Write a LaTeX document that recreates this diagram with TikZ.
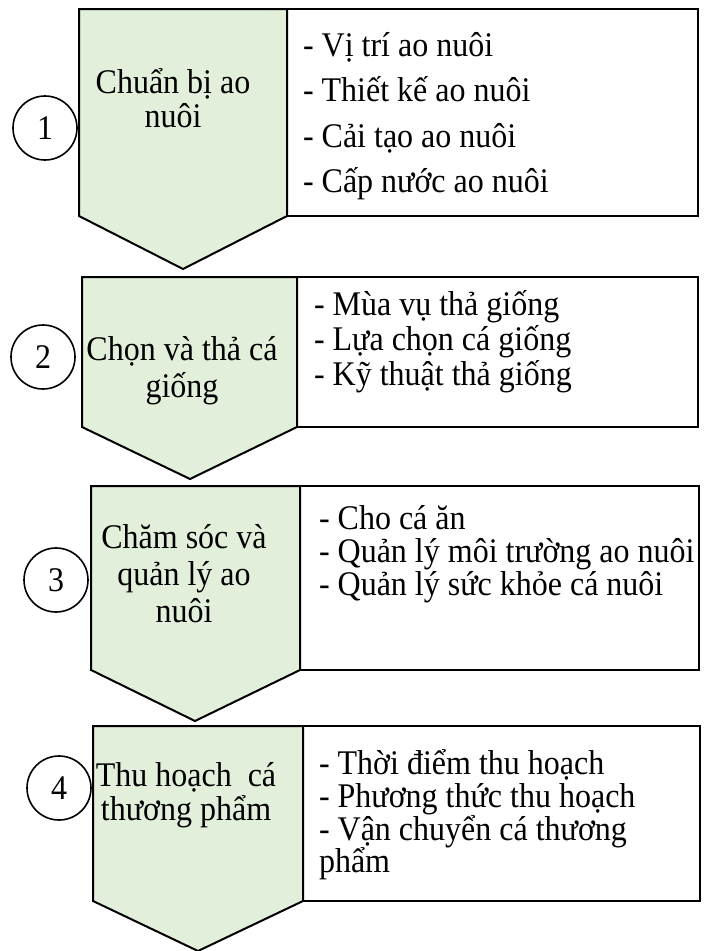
\documentclass[tikz,border=0pt]{standalone}
\usepackage{fontspec}
\usepackage{graphicx}
\setmainfont{Liberation Serif}
\definecolor{fillg}{HTML}{E2EFDA}
\newcommand\tallt[1]{\scalebox{1}[1.08]{#1}}
\begin{document}
\begin{tikzpicture}[x=1pt,y=-1pt,line width=2pt,line join=miter,
  chev/.style={draw=black,fill=fillg},
  lbox/.style={draw=black,fill=white},
  num/.style={circle,draw,line width=1.6pt,minimum size=64pt,inner sep=0pt,font=\fontsize{32}{36}\selectfont},
  item/.style={anchor=base west,inner sep=0pt,font=\fontsize{32}{36}\selectfont},
  ttl/.style={anchor=base,inner sep=0pt,font=\fontsize{32}{36}\selectfont}]
\useasboundingbox (0,0) rectangle (712,951);
% step 1
\draw[lbox] (287,9) rectangle (698,216);
\draw[chev] (79,9) -- (287,9) -- (287,216) -- (183,269) -- (79,216) -- cycle;
\node[num] (n1) at (45,128) {\tallt{1}};
\node[ttl] (t1a) at (173,93) {\tallt{Chuẩn bị ao}};
\node[ttl] (t1b) at (173,127) {\tallt{nuôi}};
\node[item] (i1a) at (302,56) {\tallt{- Vị trí ao nuôi}};
\node[item] (i1b) at (302,101) {\tallt{- Thiết kế ao nuôi}};
\node[item] (i1c) at (302,147) {\tallt{- Cải tạo ao nuôi}};
\node[item] (i1d) at (302,192) {\tallt{- Cấp nước ao nuôi}};
% step 2
\draw[lbox] (297,277) rectangle (698,427);
\draw[chev] (82,277) -- (297,277) -- (297,427) -- (190,479) -- (82,427) -- cycle;
\node[num] (n2) at (43,357) {\tallt{2}};
\node[ttl] (t2a) at (182,360) {\tallt{Chọn và thả cá}};
\node[ttl] (t2b) at (182,397) {\tallt{giống}};
\node[item] (i2a) at (313,315) {\tallt{- Mùa vụ thả giống}};
\node[item] (i2b) at (313,350) {\tallt{- Lựa chọn cá giống}};
\node[item] (i2c) at (313,385) {\tallt{- Kỹ thuật thả giống}};
% step 3
\draw[lbox] (300,486) rectangle (699,670);
\draw[chev] (91,486) -- (300,486) -- (300,670) -- (195,721) -- (91,670) -- cycle;
\node[num] (n3) at (56,580) {\tallt{3}};
\node[ttl] (t3a) at (184,548) {\tallt{Chăm sóc và}};
\node[ttl] (t3b) at (184,585) {\tallt{quản lý ao}};
\node[ttl] (t3c) at (184,622) {\tallt{nuôi}};
\node[item] (i3a) at (318,529) {\tallt{- Cho cá ăn}};
\node[item] (i3b) at (318,562) {\tallt{- Quản lý môi trường ao nuôi}};
\node[item] (i3c) at (318,595) {\tallt{- Quản lý sức khỏe cá nuôi}};
% step 4
\draw[lbox] (303,726) rectangle (700,901);
\draw[chev] (93,726) -- (303,726) -- (303,901) -- (198,951) -- (93,901) -- cycle;
\node[num] (n4) at (59,788) {\tallt{4}};
\node[ttl] (t4a) at (186,786) {\tallt{Thu hoạch\ \ cá}};
\node[ttl] (t4b) at (186,820) {\tallt{thương phẩm}};
\node[item] (i4a) at (318,774) {\tallt{- Thời điểm thu hoạch}};
\node[item] (i4b) at (318,807) {\tallt{- Phương thức thu hoạch}};
\node[item] (i4c) at (318,840) {\tallt{- Vận chuyển cá thương}};
\node[item] (i4d) at (318,872) {\tallt{phẩm}};
\end{tikzpicture}
\end{document}
